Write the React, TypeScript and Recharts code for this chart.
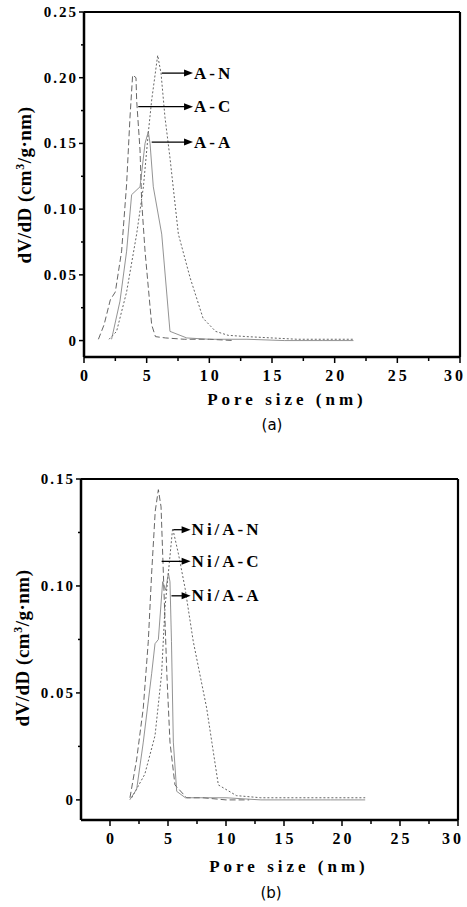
import React from "react";
import { LineChart, Line, XAxis, YAxis, ReferenceLine } from "recharts";

const SERIF = '"Liberation Serif", "Times New Roman", serif';

// ---- panel (a) ----
const A_N_X = [2.0, 2.6, 3.4, 4.2, 4.74, 5.13, 5.4, 5.88, 6.15, 6.46, 6.86, 7.53, 8.46, 9.5, 10.5, 11.5, 13, 15, 17, 19, 21.5];
const A_N_Y = [0.001, 0.007, 0.037, 0.081, 0.117, 0.158, 0.183, 0.217, 0.203, 0.17, 0.139, 0.081, 0.048, 0.017, 0.007, 0.004, 0.003, 0.002, 0.001, 0.001, 0.001];

const A_C_X = [1.15, 1.6, 2.1, 2.5, 3.0, 3.4, 3.67, 3.88, 4.15, 4.2, 4.47, 4.6, 4.87, 5.4, 5.7, 6.5, 8, 10, 12];
const A_C_Y = [0.001, 0.012, 0.031, 0.037, 0.068, 0.119, 0.17, 0.202, 0.2, 0.183, 0.145, 0.106, 0.068, 0.012, 0.003, 0.002, 0.001, 0.001, 0];

const A_A_X = [2.2, 2.87, 3.4, 3.8, 4.47, 4.87, 5.13, 5.27, 5.53, 6.2, 6.86, 8.2, 10, 13, 16, 19, 21.5];
const A_A_Y = [0.001, 0.03, 0.068, 0.111, 0.117, 0.15, 0.159, 0.15, 0.117, 0.081, 0.007, 0.002, 0.001, 0.001, 0, 0, 0];

const A_LABELS = ["A-N", "A-C", "A-A"];
const A_ARROW_Y = [0.2035, 0.178, 0.151];
const A_ARROW_X0 = [6.2, 4.33, 5.4];
const A_ARROW_X1 = [8.7, 8.7, 8.7];

const A_Y_TICKS = [0, 0.025, 0.05, 0.075, 0.1, 0.125, 0.15, 0.175, 0.2, 0.225, 0.25];
const A_X_TICKS = [0, 2.5, 5, 7.5, 10, 12.5, 15, 17.5, 20, 22.5, 25, 27.5, 30];

// ---- panel (b) ----
const B_N_X = [1.87, 3.0, 3.88, 4.45, 4.74, 5.03, 5.4, 5.9, 6.47, 7.18, 8.33, 9.34, 10.9, 13, 16, 19, 22];
const B_N_Y = [0.001, 0.012, 0.03, 0.059, 0.09, 0.106, 0.127, 0.115, 0.099, 0.074, 0.043, 0.007, 0.002, 0.001, 0.001, 0.001, 0.001];

const B_C_X = [1.72, 2.3, 2.87, 3.3, 3.59, 3.9, 4.17, 4.4, 4.6, 4.9, 5.17, 5.6, 6.6, 8, 10, 12];
const B_C_Y = [0.001, 0.019, 0.043, 0.074, 0.106, 0.135, 0.145, 0.137, 0.106, 0.059, 0.027, 0.007, 0.001, 0.001, 0, 0];

const B_A_X = [1.7, 2.3, 2.87, 3.59, 3.88, 4.17, 4.54, 4.8, 5.03, 5.17, 5.3, 5.46, 5.75, 6.5, 8, 10, 13, 16, 19, 22];
const B_A_Y = [0, 0.005, 0.027, 0.059, 0.073, 0.075, 0.102, 0.098, 0.106, 0.102, 0.074, 0.027, 0.004, 0.001, 0.001, 0.001, 0, 0, 0, 0];

const B_LABELS = ["Ni/A-N", "Ni/A-C", "Ni/A-A"];
const B_ARROW_Y = [0.1263, 0.1115, 0.0954];
const B_ARROW_X0 = [5.46, 4.45, 5.3];
const B_ARROW_X1 = [6.95, 6.95, 6.95];

const B_Y_TICKS = [0, 0.025, 0.05, 0.075, 0.1, 0.125, 0.15];
const B_X_TICKS = [0, 2.5, 5, 7.5, 10, 12.5, 15, 17.5, 20, 22.5, 25, 27.5, 30];

const zip = (xs: number[], ys: number[]) => xs.map((x, i) => ({ x, y: ys[i] }));

const isMajor = (v: number, step: number) => Math.abs(v / step - Math.round(v / step)) < 1e-6;

function YTick(props: any) {
  const { x, y, payload } = props;
  const v = payload.value as number;
  const major = isMajor(v, 0.05);
  return (
    <g>
      <line x1={x} x2={x - (major ? 5 : 3)} y1={y} y2={y} stroke="#000" strokeWidth={1.5} />
      {major && (
        <text
          x={x - 6}
          y={y}
          textAnchor="end"
          dominantBaseline="central"
          fontFamily={SERIF}
          fontWeight="bold"
          fontSize={15}
          letterSpacing={2}
        >
          {v === 0 ? "0" : v.toFixed(2)}
        </text>
      )}
    </g>
  );
}

function XTick(props: any) {
  const { x, y, payload } = props;
  const v = payload.value as number;
  const major = isMajor(v, 5);
  // last label sits against the page edge
  const shift = v >= 30 ? -5 : 1.5;
  return (
    <g>
      <line x1={x} x2={x} y1={y} y2={y + (major ? 6 : 4)} stroke="#000" strokeWidth={1.5} />
      {major && (
        <text
          x={x + shift}
          y={y + 18}
          textAnchor="middle"
          dominantBaseline="central"
          fontFamily={SERIF}
          fontWeight="bold"
          fontSize={16}
          letterSpacing={3}
        >
          {v}
        </text>
      )}
    </g>
  );
}

const arrow = (label: string) => (p: any) => {
  const { x1, y1, x2, y2 } = p;
  return (
    <g>
      <line x1={x1} y1={y1} x2={x2 - 7} y2={y2} stroke="#000" strokeWidth={1.3} />
      <polygon points={`${x2},${y2} ${x2 - 9},${y2 - 3.5} ${x2 - 9},${y2 + 3.5}`} fill="#000" />
      <text
        x={x2 + 1}
        y={y2}
        dominantBaseline="central"
        fontFamily={SERIF}
        fontWeight="bold"
        fontSize={17}
        letterSpacing={3}
      >
        {label}
      </text>
    </g>
  );
};

const lineProps = {
  type: "linear" as const,
  dataKey: "y",
  dot: false,
  isAnimationActive: false,
};

function Panel(props: {
  top: number;
  height: number;
  margin: { top: number; right: number; bottom: number; left: number };
  xDomain: [number, number];
  yDomain: [number, number];
  xTicks: number[];
  yTicks: number[];
  series: { x: number[]; y: number[]; dash: string; color: string; width: number }[];
  labels: string[];
  arrowY: number[];
  arrowX0: number[];
  arrowX1: number[];
}) {
  const { xDomain, yDomain } = props;
  return (
    <div style={{ position: "absolute", left: 0, top: props.top }}>
      <LineChart width={467} height={props.height} margin={props.margin}>
        <XAxis
          type="number"
          dataKey="x"
          domain={xDomain}
          ticks={props.xTicks}
          interval={0}
          height={1}
          tickSize={0}
          tickMargin={0}
          tickLine={false}
          axisLine={{ stroke: "#000", strokeWidth: 2.5 }}
          tick={(p: any) => <XTick {...p} />}
          allowDataOverflow
        />
        <YAxis
          type="number"
          domain={yDomain}
          ticks={props.yTicks}
          interval={0}
          width={1}
          tickSize={0}
          tickMargin={0}
          tickLine={false}
          axisLine={{ stroke: "#000", strokeWidth: 2.5 }}
          tick={(p: any) => <YTick {...p} />}
          allowDataOverflow
        />
        <ReferenceLine x={xDomain[1]} stroke="#000" strokeWidth={2.2} />
        <ReferenceLine y={yDomain[1]} stroke="#000" strokeWidth={2} />
        {props.series.map((s, i) => (
          <Line
            key={i}
            {...lineProps}
            data={zip(s.x, s.y)}
            stroke={s.color}
            strokeWidth={s.width}
            strokeDasharray={s.dash}
          />
        ))}
        {props.labels.map((lab, i) => (
          <ReferenceLine
            key={lab}
            segment={[
              { x: props.arrowX0[i], y: props.arrowY[i] },
              { x: props.arrowX1[i], y: props.arrowY[i] },
            ]}
            shape={arrow(lab)}
          />
        ))}
      </LineChart>
    </div>
  );
}

const yTitle = (
  <span>
    dV/dD (cm<sup style={{ fontSize: 12 }}>3</sup>/g·nm)
  </span>
);

function Text(props: { x: number; y: number; rotate?: boolean; style?: React.CSSProperties; children: React.ReactNode }) {
  return (
    <div
      style={{
        position: "absolute",
        left: props.x,
        top: props.y,
        transform: `translate(-50%, -50%)${props.rotate ? " rotate(-90deg)" : ""}`,
        whiteSpace: "nowrap",
        lineHeight: 1,
        ...props.style,
      }}
    >
      {props.children}
    </div>
  );
}

const titleStyle: React.CSSProperties = { fontFamily: SERIF, fontWeight: "bold", fontSize: 17, letterSpacing: 4 };
const yTitleStyle: React.CSSProperties = { fontFamily: SERIF, fontWeight: "bold", fontSize: 19, letterSpacing: 0.5 };
const capStyle: React.CSSProperties = { fontFamily: '"DejaVu Sans", sans-serif', fontSize: 15 };

export default function App() {
  return (
    <div style={{ position: "absolute", left: 0, top: 0, width: 467, height: 907, background: "#fff", overflow: "hidden" }}>
      <Panel
        top={0}
        height={440}
        margin={{ top: 12, right: 7, bottom: 82, left: 83 }}
        xDomain={[0, 30]}
        yDomain={[-0.0125, 0.25]}
        xTicks={A_X_TICKS}
        yTicks={A_Y_TICKS}
        series={[
          { x: A_N_X, y: A_N_Y, dash: "2 2", color: "#555", width: 0.9 },
          { x: A_C_X, y: A_C_Y, dash: "6 3", color: "#555", width: 0.9 },
          { x: A_A_X, y: A_A_Y, dash: "", color: "#777", width: 0.8 },
        ]}
        labels={A_LABELS}
        arrowY={A_ARROW_Y}
        arrowX0={A_ARROW_X0}
        arrowX1={A_ARROW_X1}
      />
      <Text x={24} y={185} rotate style={yTitleStyle}>{yTitle}</Text>
      <Text x={287} y={399} style={titleStyle}>Pore size (nm)</Text>
      <Text x={272} y={425} style={capStyle}>(a)</Text>

      <Panel
        top={440}
        height={467}
        margin={{ top: 39, right: 9, bottom: 86, left: 80 }}
        xDomain={[-2.5, 30]}
        yDomain={[-0.0094, 0.15]}
        xTicks={B_X_TICKS}
        yTicks={B_Y_TICKS}
        series={[
          { x: B_N_X, y: B_N_Y, dash: "2 2", color: "#555", width: 0.9 },
          { x: B_C_X, y: B_C_Y, dash: "6 3", color: "#555", width: 0.9 },
          { x: B_A_X, y: B_A_Y, dash: "", color: "#777", width: 0.8 },
        ]}
        labels={B_LABELS}
        arrowY={B_ARROW_Y}
        arrowX0={B_ARROW_X0}
        arrowX1={B_ARROW_X1}
      />
      <Text x={22} y={648} rotate style={yTitleStyle}>{yTitle}</Text>
      <Text x={289} y={866} style={titleStyle}>Pore size (nm)</Text>
      <Text x={271} y={893} style={capStyle}>(b)</Text>
    </div>
  );
}
